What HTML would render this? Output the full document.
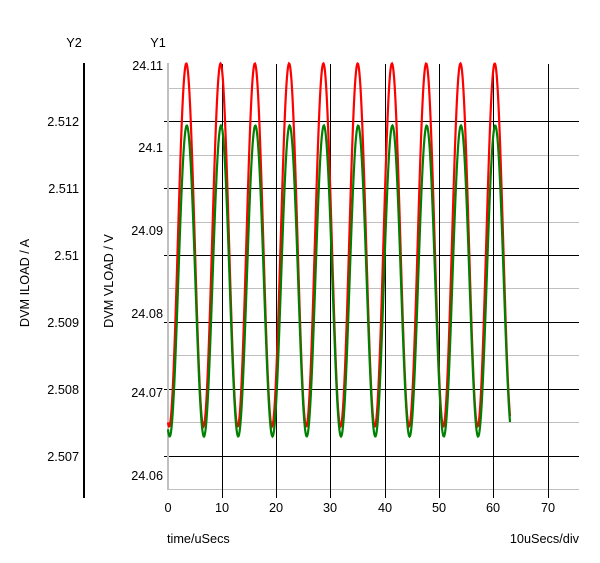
<!DOCTYPE html>
<html><head><meta charset="utf-8"><style>
html,body{margin:0;padding:0;background:#fff;}
svg{display:block;font-family:"Liberation Sans",Arial,sans-serif;font-size:12.7px;}
</style></head><body>
<svg id="s" width="600" height="563" viewBox="0 0 600 563" xmlns="http://www.w3.org/2000/svg">
<g stroke="#c0c0c0" stroke-width="1">
<line x1="168" y1="88.5" x2="579" y2="88.5"/>
<line x1="168" y1="155.5" x2="579" y2="155.5"/>
<line x1="168" y1="222.5" x2="579" y2="222.5"/>
<line x1="168" y1="288.5" x2="579" y2="288.5"/>
<line x1="168" y1="355.5" x2="579" y2="355.5"/>
<line x1="168" y1="422.5" x2="579" y2="422.5"/>
<line x1="168" y1="489.5" x2="579" y2="489.5"/>
</g>
<g stroke="#000" stroke-width="1">
<line x1="164" y1="121.5" x2="579" y2="121.5"/>
<line x1="164" y1="188.5" x2="579" y2="188.5"/>
<line x1="164" y1="255.5" x2="579" y2="255.5"/>
<line x1="164" y1="322.5" x2="579" y2="322.5"/>
<line x1="164" y1="389.5" x2="579" y2="389.5"/>
<line x1="164" y1="456.5" x2="579" y2="456.5"/>
<line x1="222.5" y1="64" x2="222.5" y2="498"/>
<line x1="276.5" y1="64" x2="276.5" y2="498"/>
<line x1="330.5" y1="64" x2="330.5" y2="498"/>
<line x1="385.5" y1="64" x2="385.5" y2="498"/>
<line x1="439.5" y1="64" x2="439.5" y2="498"/>
<line x1="493.5" y1="64" x2="493.5" y2="498"/>
<line x1="548.5" y1="64" x2="548.5" y2="498"/>
</g>
<line x1="168" y1="63" x2="168" y2="490" stroke="#c0c0c0" stroke-width="2"/>
<line x1="84" y1="63" x2="84" y2="498" stroke="#000" stroke-width="2"/>
<path id="red" fill="none" stroke="#ff0000" stroke-width="2.2"/>
<path id="grn" fill="none" stroke="#008000" stroke-width="2.2"/>
<g fill="#000">
<text x="74" y="47" text-anchor="middle">Y2</text>
<text x="158" y="47" text-anchor="middle">Y1</text>
<g text-anchor="end">
<text x="79" y="126">2.512</text>
<text x="79" y="193">2.511</text>
<text x="79" y="260">2.51</text>
<text x="79" y="327">2.509</text>
<text x="79" y="394">2.508</text>
<text x="79" y="461">2.507</text>
<text x="163" y="70">24.11</text>
<text x="163" y="152">24.1</text>
<text x="163" y="235">24.09</text>
<text x="163" y="318">24.08</text>
<text x="163" y="397">24.07</text>
<text x="163" y="480">24.06</text>
</g>
<text transform="translate(29,283) rotate(-90)" text-anchor="middle">DVM ILOAD / A</text>
<text transform="translate(113,281) rotate(-90)" text-anchor="middle">DVM VLOAD / V</text>
<g text-anchor="middle">
<text x="168" y="512">0</text>
<text x="222" y="512">10</text>
<text x="276" y="512">20</text>
<text x="330" y="512">30</text>
<text x="385" y="512">40</text>
<text x="439" y="512">50</text>
<text x="493" y="512">60</text>
<text x="548" y="512">70</text>
</g>
<text x="167" y="543">time/uSecs</text>
<text x="579" y="543" text-anchor="end">10uSecs/div</text>
</g>
</svg>
<script>
function mk(c,a,sh){var d="";var P=34.27,pk=186.3;
for(var x=168;x<=510.01;x+=0.5){var y=c-a*Math.cos(2*Math.PI*(x-pk-sh)/P);
d+=(d?"L":"M")+x.toFixed(1)+" "+y.toFixed(1);}
return d;}
document.getElementById("red").setAttribute("d",mk(245,181.5,0));
document.getElementById("grn").setAttribute("d",mk(281,155.5,0.5));
</script>
</body></html>
